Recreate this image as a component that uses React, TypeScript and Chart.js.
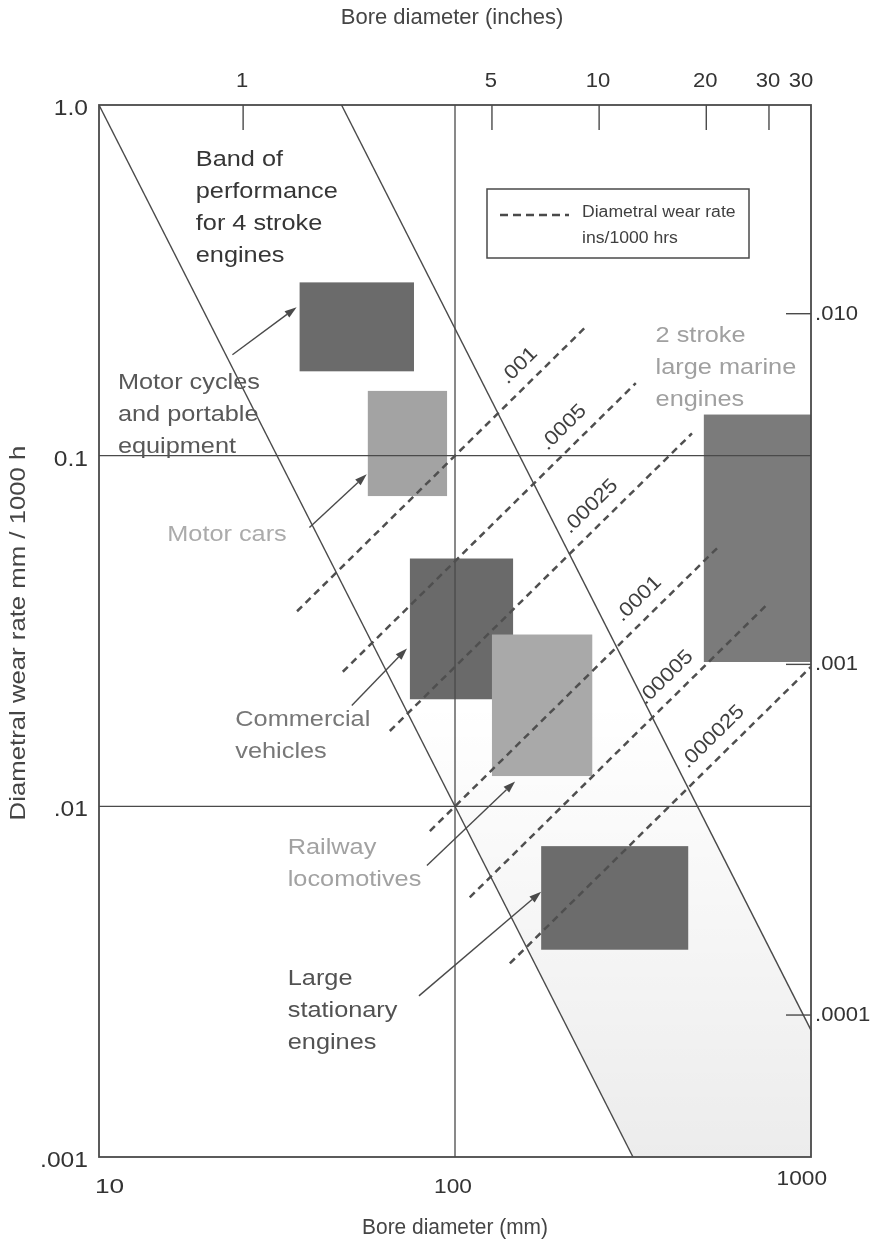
import React, { useEffect, useRef } from 'react';
import { Chart, registerables } from 'chart.js';

Chart.register(...registerables);

const CANVAS_W = 887;
const CANVAS_H = 1249;
const FONT = '"Liberation Sans", Arial, Helvetica, sans-serif';
const INK = '#4a4a4a';

// Axis ranges: bore diameter (mm) and diametral wear rate (mm / 1000 h)
const boreMinMax = [10, 1000];
const wearMinMax = [0.001, 1.0];

// Bottom and left tick labels (metric)
const mmTickValues = [10, 100, 1000];
const mmTickLabels = ['10', '100', '1000'];
const wearTickValues = [1.0, 0.1, 0.01, 0.001];
const wearTickLabels = ['1.0', '0.1', '.01', '.001'];

// Top and right tick labels (imperial)
const inchTickValues = [1, 5, 10, 20, 30, 39.37];
const inchTickLabels = ['1', '5', '10', '20', '30', '30'];
const inchWearTickValues = [0.01, 0.001, 0.0001];
const inchWearTickLabels = ['.010', '.001', '.0001'];
const MM_PER_INCH = 25.4;

// Internal grid lines
const gridBore = [100];
const gridWear = [0.1, 0.01];

// Band of performance for 4 stroke engines (lower and upper edges)
const bandLowerBore = [10, 316.2];
const bandLowerWear = [1.0, 0.001];
const bandUpperBore = [48, 1000];
const bandUpperWear = [1.0, 0.0023];

// Lines of constant diametral wear rate per unit bore (ins/1000 hrs)
const wearRatios = [0.001, 0.0005, 0.00025, 0.0001, 0.00005, 0.000025];
const wearRatioLabels = ['.001', '.0005', '.00025', '.0001', '.00005', '.000025'];
const wearLineFrom = [36, 48.4, 65.6, 85, 110, 142.6];
const wearLineTo = [232, 322, 463, 545, 757, 1000];
const wearLabelAt = [165, 220, 262, 357, 426, 577];

// Engine classes: bore range (mm) and wear range (mm / 1000 h)
const engineBoreLo = [36.6, 56.9, 74.7, 127, 174.6, 500];
const engineBoreHi = [76.7, 95, 145.6, 243, 452, 1000];
const engineWearLo = [0.174, 0.0767, 0.0202, 0.0122, 0.0039, 0.0258];
const engineWearHi = [0.312, 0.153, 0.0509, 0.0309, 0.0077, 0.131];
const engineFill = ['#6b6b6b', '#a3a3a3', '#6a6a6a', '#a9a9a9', '#6c6c6c', '#7b7b7b'];

// Captions (first line anchor in data units) and pointer arrows
const captionLines = [
  ['Band of', 'performance', 'for 4 stroke', 'engines'],
  ['Motor cycles', 'and portable', 'equipment'],
  ['Motor cars'],
  ['Commercial', 'vehicles'],
  ['Railway', 'locomotives'],
  ['Large', 'stationary', 'engines'],
  ['2 stroke', 'large marine', 'engines'],
];
const captionBore = [18.7, 11.3, 15.55, 24.15, 33.9, 33.9, 366];
const captionWear = [0.699, 0.1617, 0.0595, 0.01762, 0.00761, 0.00321, 0.2197];
const captionColor = ['#363636', '#585858', '#ababab', '#777777', '#a2a2a2', '#525252', '#a0a0a0'];

const arrowTailBore = [23.7, 39.0, 51.3, 83.4, 79.2];
const arrowTailWear = [0.194, 0.0624, 0.0194, 0.00678, 0.00288];
const arrowHeadBore = [35.9, 56.5, 73.3, 147.5, 174.6];
const arrowHeadWear = [0.265, 0.0885, 0.0282, 0.01178, 0.00571];

function drawText(
  ctx: CanvasRenderingContext2D,
  text: string,
  x: number,
  y: number,
  size: number,
  color: string,
  align: CanvasTextAlign = 'left',
  scaleX = 1,
  rotation = 0,
) {
  ctx.save();
  ctx.translate(x, y);
  if (rotation) ctx.rotate(rotation);
  ctx.scale(scaleX, 1);
  ctx.font = `${size}px ${FONT}`;
  ctx.fillStyle = color;
  ctx.textAlign = align;
  ctx.textBaseline = 'middle';
  ctx.fillText(text, 0, 0);
  ctx.restore();
}

function drawArrow(ctx: CanvasRenderingContext2D, x1: number, y1: number, x2: number, y2: number) {
  const a = Math.atan2(y2 - y1, x2 - x1);
  const len = 12;
  const half = 4;
  const bx = x2 - len * Math.cos(a);
  const by = y2 - len * Math.sin(a);
  ctx.save();
  ctx.strokeStyle = INK;
  ctx.fillStyle = INK;
  ctx.lineWidth = 1.4;
  ctx.beginPath();
  ctx.moveTo(x1, y1);
  ctx.lineTo(bx, by);
  ctx.stroke();
  ctx.beginPath();
  ctx.moveTo(x2, y2);
  ctx.lineTo(bx + half * Math.sin(a), by - half * Math.cos(a));
  ctx.lineTo(bx - half * Math.sin(a), by + half * Math.cos(a));
  ctx.closePath();
  ctx.fill();
  ctx.restore();
}

const backdropPlugin = {
  id: 'backdrop',
  beforeDraw(chart: any) {
    const { ctx } = chart;
    ctx.save();
    ctx.fillStyle = '#ffffff';
    ctx.fillRect(0, 0, chart.width, chart.height);
    ctx.restore();
  },
  beforeDatasetsDraw(chart: any) {
    const { ctx, chartArea: ca } = chart;
    const xs = chart.scales.x;
    const ys = chart.scales.y;
    const px = (v: number) => xs.getPixelForValue(v);
    const py = (v: number) => ys.getPixelForValue(v);

    ctx.save();
    ctx.beginPath();
    ctx.rect(ca.left, ca.top, ca.right - ca.left, ca.bottom - ca.top);
    ctx.clip();

    // faint shading inside the lower part of the performance band
    const grad = ctx.createLinearGradient(0, py(0.02), 0, ca.bottom);
    grad.addColorStop(0, 'rgba(0,0,0,0)');
    grad.addColorStop(1, 'rgba(0,0,0,0.075)');
    ctx.fillStyle = grad;
    ctx.beginPath();
    ctx.moveTo(px(bandLowerBore[0]), py(bandLowerWear[0]));
    ctx.lineTo(px(bandLowerBore[1]), py(bandLowerWear[1]));
    ctx.lineTo(px(boreMinMax[1]), py(wearMinMax[0]));
    ctx.lineTo(px(bandUpperBore[1]), py(bandUpperWear[1]));
    ctx.lineTo(px(bandUpperBore[0]), py(bandUpperWear[0]));
    ctx.closePath();
    ctx.fill();

    // engine class boxes
    for (let i = 0; i < engineBoreLo.length; i++) {
      const x0 = px(engineBoreLo[i]);
      const x1 = px(engineBoreHi[i]);
      const y0 = py(engineWearHi[i]);
      const y1 = py(engineWearLo[i]);
      ctx.fillStyle = engineFill[i];
      ctx.fillRect(x0, y0, x1 - x0, y1 - y0);
    }

    // internal grid
    ctx.strokeStyle = INK;
    ctx.lineWidth = 1.3;
    gridBore.forEach((v) => {
      ctx.beginPath();
      ctx.moveTo(px(v), ca.top);
      ctx.lineTo(px(v), ca.bottom);
      ctx.stroke();
    });
    gridWear.forEach((v) => {
      ctx.beginPath();
      ctx.moveTo(ca.left, py(v));
      ctx.lineTo(ca.right, py(v));
      ctx.stroke();
    });
    ctx.restore();

    // frame
    ctx.save();
    ctx.strokeStyle = INK;
    ctx.lineWidth = 1.8;
    ctx.strokeRect(ca.left, ca.top, ca.right - ca.left, ca.bottom - ca.top);

    // inch ticks along the top, pointing into the plot
    ctx.lineWidth = 1.4;
    inchTickValues.forEach((v) => {
      const x = px(v * MM_PER_INCH);
      if (x >= ca.right - 2) return;
      ctx.beginPath();
      ctx.moveTo(x, ca.top);
      ctx.lineTo(x, ca.top + 25);
      ctx.stroke();
    });
    // ins/1000 hrs ticks along the right edge
    inchWearTickValues.forEach((v) => {
      const y = py(v * MM_PER_INCH);
      ctx.beginPath();
      ctx.moveTo(ca.right, y);
      ctx.lineTo(ca.right - 25, y);
      ctx.stroke();
    });
    ctx.restore();
  },
};

const annotationPlugin = {
  id: 'annotations',
  afterDraw(chart: any) {
    const { ctx, chartArea: ca } = chart;
    const xs = chart.scales.x;
    const ys = chart.scales.y;
    const px = (v: number) => xs.getPixelForValue(v);
    const py = (v: number) => ys.getPixelForValue(v);
    const tickColor = '#333333';
    const tickSize = 21;

    // metric ticks
    mmTickValues.forEach((v, i) => {
      const x = px(v);
      const last = i === mmTickValues.length - 1;
      const align: CanvasTextAlign = i === 0 ? 'left' : last ? 'right' : 'center';
      const dx = i === 0 ? -4 : last ? 16 : -2;
      const dy = last ? 22 : 30;
      drawText(ctx, mmTickLabels[i], x + dx, ca.bottom + dy, tickSize, tickColor, align, i === 0 ? 1.25 : 1.08);
    });
    wearTickValues.forEach((v, i) => {
      drawText(ctx, wearTickLabels[i], ca.left - 11, py(v) + 4, 22, tickColor, 'right', 1.12);
    });

    // imperial ticks
    inchTickValues.forEach((v, i) => {
      const x = px(v * MM_PER_INCH);
      const isLast = i === inchTickValues.length - 1;
      drawText(ctx, inchTickLabels[i], isLast ? x - 10 : x - 1, ca.top - 24, tickSize, tickColor, 'center', 1.05);
    });
    inchWearTickValues.forEach((v, i) => {
      drawText(ctx, inchWearTickLabels[i], ca.right + 4, py(v * MM_PER_INCH), tickSize, tickColor, 'left', 1.05);
    });

    // axis titles
    const titleColor = '#454545';
    drawText(ctx, 'Bore diameter (inches)', (ca.left + ca.right) / 2 - 3, 18, 22, titleColor, 'center', 1.0);
    drawText(ctx, 'Bore diameter (mm)', (ca.left + ca.right) / 2, CANVAS_H - 21, 22, titleColor, 'center', 0.95);
    drawText(ctx, 'Diametral wear rate mm / 1000 h', 19, 633, 22, titleColor, 'center', 1.17, -Math.PI / 2);

    // captions
    const lineGap = 32;
    captionLines.forEach((lines, i) => {
      const x = px(captionBore[i]);
      const y0 = py(captionWear[i]);
      lines.forEach((t, j) => {
        drawText(ctx, t, x, y0 + j * lineGap, 22, captionColor[i], 'left', 1.15);
      });
    });

    // pointer arrows
    arrowTailBore.forEach((_, i) => {
      drawArrow(ctx, px(arrowTailBore[i]), py(arrowTailWear[i]), px(arrowHeadBore[i]), py(arrowHeadWear[i]));
    });

    // labels along the constant wear-ratio lines
    wearRatios.forEach((r, i) => {
      const xa = px(wearLineFrom[i]);
      const ya = py(r * wearLineFrom[i]);
      const xb = px(wearLineTo[i]);
      const yb = py(r * wearLineTo[i]);
      const a = Math.atan2(yb - ya, xb - xa);
      const cx = px(wearLabelAt[i]);
      const cy = py(r * wearLabelAt[i]);
      const off = 19;
      drawText(
        ctx,
        wearRatioLabels[i],
        cx + off * Math.sin(a),
        cy - off * Math.cos(a),
        20,
        '#3f3f3f',
        'center',
        1.12,
        a,
      );
    });

    // legend
    const lx = ca.left + 388;
    const ly = ca.top + 84;
    ctx.save();
    ctx.strokeStyle = INK;
    ctx.lineWidth = 1.5;
    ctx.strokeRect(lx, ly, 262, 69);
    ctx.setLineDash([8, 5]);
    ctx.lineWidth = 2.6;
    ctx.beginPath();
    ctx.moveTo(lx + 13, ly + 26);
    ctx.lineTo(lx + 82, ly + 26);
    ctx.stroke();
    ctx.restore();
    drawText(ctx, 'Diametral wear rate', lx + 95, ly + 24, 16, '#3f3f3f', 'left', 1.1);
    drawText(ctx, 'ins/1000 hrs', lx + 95, ly + 50, 16, '#3f3f3f', 'left', 1.1);
  },
};

export default function App() {
  const canvasRef = useRef<HTMLCanvasElement | null>(null);

  useEffect(() => {
    const canvas = canvasRef.current;
    if (!canvas) return;

    const solid = (bores: number[], wears: number[], label: string) => ({
      label,
      data: bores.map((b, i) => ({ x: b, y: wears[i] })),
      showLine: true,
      borderColor: INK,
      borderWidth: 1.4,
      pointRadius: 0,
      fill: false,
    });

    const dashed = wearRatios.map((r, i) => ({
      label: wearRatioLabels[i],
      data: [
        { x: wearLineFrom[i], y: r * wearLineFrom[i] },
        { x: wearLineTo[i], y: r * wearLineTo[i] },
      ],
      showLine: true,
      borderColor: '#4f4f4f',
      borderWidth: 2.5,
      borderDash: [7, 5],
      pointRadius: 0,
      fill: false,
    }));

    const chart = new Chart(canvas, {
      type: 'scatter',
      data: {
        datasets: [
          solid(bandLowerBore, bandLowerWear, 'band lower'),
          solid(bandUpperBore, bandUpperWear, 'band upper'),
          ...dashed,
        ],
      },
      options: {
        responsive: false,
        animation: false,
        devicePixelRatio: 1,
        events: [],
        layout: { padding: { left: 99, top: 105, right: 76, bottom: 92 } },
        plugins: {
          legend: { display: false },
          tooltip: { enabled: false },
        },
        scales: {
          x: { type: 'logarithmic', min: boreMinMax[0], max: boreMinMax[1], display: false },
          y: { type: 'logarithmic', min: wearMinMax[0], max: wearMinMax[1], display: false },
        },
      },
      plugins: [backdropPlugin, annotationPlugin],
    } as any);

    return () => chart.destroy();
  }, []);

  return (
    <div style={{ position: 'absolute', left: 0, top: 0, width: CANVAS_W, height: CANVAS_H, background: '#fff' }}>
      <canvas ref={canvasRef} width={CANVAS_W} height={CANVAS_H} style={{ display: 'block' }} />
    </div>
  );
}
